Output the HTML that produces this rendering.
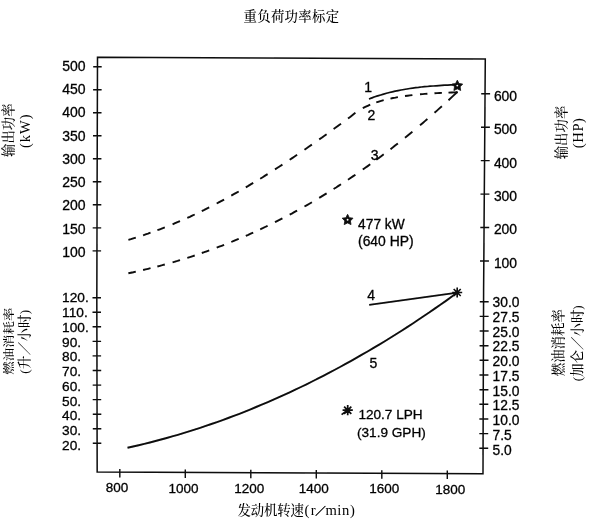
<!DOCTYPE html>
<html lang="zh-CN">
<head>
<meta charset="utf-8">
<title>重负荷功率标定</title>
<style>
html,body{margin:0;padding:0;background:#fff;}
body{width:601px;height:532px;overflow:hidden;}
svg{display:block;}
</style>
</head>
<body>
<svg width="601" height="532" viewBox="0 0 601 532">
<defs><filter id="soft" x="0" y="0" width="601" height="532" filterUnits="userSpaceOnUse"><feGaussianBlur stdDeviation="0.35"/></filter></defs>
<rect width="601" height="532" fill="#fff"/>
<g filter="url(#soft)">
<path d="M97.5 57.2 L485.3 59 L483.6 290 L483 473.7 L97.2 472 L96.8 300 Z" fill="none" stroke="#0a0a0a" stroke-width="1.5" stroke-linejoin="miter"/>
<path d="M93.2 66.7L101.7 66.7 M93.1 89.7L101.6 89.7 M93 112.8L101.5 112.8 M93 135.8L101.5 135.8 M92.9 158.8L101.4 158.8 M92.8 181.8L101.3 181.8 M92.8 204.8L101.3 204.8 M92.7 227.9L101.2 227.9 M92.6 250.9L101.1 250.9 M92.5 297.7L101 297.7 M92.5 312.3L101 312.3 M92.6 326.8L101.1 326.8 M92.6 341.4L101.1 341.4 M92.6 355.9L101.1 355.9 M92.7 370.5L101.2 370.5 M92.7 385.1L101.2 385.1 M92.7 399.6L101.2 399.6 M92.8 414.2L101.3 414.2 M92.8 428.7L101.3 428.7 M92.8 443.3L101.3 443.3 M481.2 93.7L490.1 93.7 M481 127.2L489.9 127.2 M480.8 160.6L489.7 160.6 M480.5 194.1L489.4 194.1 M480.3 227.5L489.2 227.5 M480 261L488.9 261 M479.8 301.7L488.7 301.7 M479.7 316.4L488.6 316.4 M479.7 331L488.6 331 M479.6 345.7L488.5 345.7 M479.6 360.3L488.5 360.3 M479.5 375L488.4 375 M479.5 389.7L488.4 389.7 M479.4 404.3L488.3 404.3 M479.4 419L488.3 419 M479.3 433.6L488.2 433.6 M479.3 448.3L488.2 448.3 M119.8 469.1L119.8 477.6 M185.3 469.4L185.3 477.9 M250.8 469.7L250.8 478.2 M316.3 470L316.3 478.5 M381.8 470.3L381.8 478.8 M447.3 470.5L447.3 479" stroke="#0a0a0a" stroke-width="1.4" fill="none"/>
<g font-family="'Liberation Sans', sans-serif" font-size="14" fill="#000" stroke="#000" stroke-width="0.3">
<text x="62.3" y="70.6">500</text>
<text x="62.3" y="93.9">450</text>
<text x="62.3" y="117.2">400</text>
<text x="62.3" y="140.5">350</text>
<text x="62.3" y="163.8">300</text>
<text x="62.3" y="187.1">250</text>
<text x="62.3" y="210.4">200</text>
<text x="62.3" y="233.7">150</text>
<text x="62.3" y="257">100</text>
<text x="62.1" y="302.4" font-size="13.7">120.</text>
<text x="62.1" y="317.1" font-size="13.7">110.</text>
<text x="62.1" y="331.9" font-size="13.7">100.</text>
<text x="62.1" y="346.6" font-size="13.7">90.</text>
<text x="62.1" y="361.3" font-size="13.7">80.</text>
<text x="62.1" y="376" font-size="13.7">70.</text>
<text x="62.1" y="390.8" font-size="13.7">60.</text>
<text x="62.1" y="405.5" font-size="13.7">50.</text>
<text x="62.1" y="420.2" font-size="13.7">40.</text>
<text x="62.1" y="435" font-size="13.7">30.</text>
<text x="62.1" y="449.7" font-size="13.7">20.</text>
<text x="493.9" y="101.1" font-size="13.9">600</text>
<text x="493.9" y="134.4" font-size="13.9">500</text>
<text x="493.9" y="167.7" font-size="13.9">400</text>
<text x="493.9" y="200.9" font-size="13.9">300</text>
<text x="493.9" y="234.2" font-size="13.9">200</text>
<text x="493.9" y="267.5" font-size="13.9">100</text>
<text x="492.6" y="307.1" font-size="13.8">30.0</text>
<text x="492.6" y="321.9" font-size="13.8">27.5</text>
<text x="492.6" y="336.6" font-size="13.8">25.0</text>
<text x="492.6" y="351.4" font-size="13.8">22.5</text>
<text x="492.6" y="366.1" font-size="13.8">20.0</text>
<text x="492.6" y="380.9" font-size="13.8">17.5</text>
<text x="492.6" y="395.6" font-size="13.8">15.0</text>
<text x="492.6" y="410.4" font-size="13.8">12.5</text>
<text x="492.6" y="425.1" font-size="13.8">10.0</text>
<text x="492.6" y="439.9" font-size="13.8">7.5</text>
<text x="492.6" y="454.6" font-size="13.8">5.0</text>
<text x="116.9" y="492.2" text-anchor="middle" font-size="13.5">800</text>
<text x="183.4" y="492.5" text-anchor="middle" font-size="13.5">1000</text>
<text x="249.3" y="492.8" text-anchor="middle" font-size="13.5">1200</text>
<text x="313.8" y="493.1" text-anchor="middle" font-size="13.5">1400</text>
<text x="384.3" y="493.4" text-anchor="middle" font-size="13.5">1600</text>
<text x="450.2" y="493.7" text-anchor="middle" font-size="13.5">1800</text>
<text x="364.3" y="92">1</text>
<text x="367.6" y="119.6">2</text>
<text x="370.8" y="160.3">3</text>
<text x="367.3" y="299.8">4</text>
<text x="369.6" y="367.5">5</text>
<text x="358.1" y="228.8" font-size="13.75">477 kW</text>
<text x="358" y="246.4" font-size="13.9">(640 HP)</text>
<text x="358.4" y="419.0" font-size="13.6">120.7 LPH</text>
<text x="357" y="436.5" font-size="13.6">(31.9 GPH)</text>
</g>
<g font-family="'Liberation Serif', 'Noto Serif CJK SC', serif" font-size="13.4" fill="#000" font-weight="500">
<text x="291.3" y="21" text-anchor="middle" textLength="95.5">重负荷功率标定</text>
<text y="515.2"><tspan x="237.4" textLength="66.6">发动机转速</tspan><tspan x="304.6" font-size="14.6" letter-spacing="1.3">(r</tspan><tspan x="315.3" dy="-0.6" font-size="10.5" stroke="#000" stroke-width="0.45">／</tspan><tspan x="325.4" dy="0.6" font-size="14.6" letter-spacing="0.6">min)</tspan></text>
<text transform="translate(13.2 130.2) rotate(-90)" text-anchor="middle" >输出功率</text>
<text transform="translate(30.2 130.8) rotate(-90)" text-anchor="middle" letter-spacing="1" font-size="14.5">(kW)</text>
<text transform="translate(12.5 341.2) rotate(-90) scale(1 0.84)" text-anchor="middle" >燃油消耗率</text>
<text transform="translate(29.3 341.6) rotate(-90)" text-anchor="middle" letter-spacing="0.3">(升／小时)</text>
<text transform="translate(565.6 132.5) rotate(-90)" text-anchor="middle" >输出功率</text>
<text transform="translate(582.8 132.8) rotate(-90)" text-anchor="middle" letter-spacing="0.6" font-size="14.6">(HP)</text>
<text transform="translate(563.3 342.7) rotate(-90)" text-anchor="middle" >燃油消耗率</text>
<text transform="translate(582 343.2) rotate(-90)" text-anchor="middle" >(加仑／小时)</text>
</g>
<path d="M127.5 447.8 L133.1 446.5 L138.7 445.2 L144.3 443.9 L149.9 442.5 L155.5 441 L161.1 439.5 L166.7 438 L172.2 436.4 L177.8 434.8 L183.4 433.1 L189 431.4 L194.6 429.6 L200.2 427.8 L205.8 425.9 L211.4 424 L217 422.1 L222.6 420.1 L228.2 418 L233.8 415.9 L239.4 413.8 L245 411.6 L250.6 409.3 L256.1 407 L261.7 404.7 L267.3 402.3 L272.9 399.9 L278.5 397.4 L284.1 394.9 L289.7 392.3 L295.3 389.7 L300.9 387 L306.5 384.3 L312.1 381.5 L317.7 378.7 L323.3 375.8 L328.9 372.9 L334.4 370 L340 367 L345.6 363.9 L351.2 360.8 L356.8 357.6 L362.4 354.4 L368 351.2 L373.6 347.9 L379.2 344.6 L384.8 341.2 L390.4 337.7 L396 334.2 L401.6 330.7 L407.2 327.1 L412.8 323.5 L418.3 319.8 L423.9 316 L429.5 312.3 L435.1 308.4 L440.7 304.5 L446.3 300.6 L451.9 296.6 L457.5 292.6" fill="none" stroke="#0a0a0a" stroke-width="1.9"/>
<path d="M369.2 304.8 L457.5 292.7" fill="none" stroke="#0a0a0a" stroke-width="1.7"/>
<path d="M369 99 L371.9 97.9 L374.8 96.8 L377.7 95.9 L380.7 95 L383.6 94.1 L386.5 93.3 L389.4 92.5 L392.3 91.8 L395.2 91.2 L398.1 90.6 L401.1 90 L404 89.5 L406.9 89 L409.8 88.5 L412.7 88.1 L415.6 87.7 L418.5 87.4 L421.4 87 L424.4 86.7 L427.3 86.5 L430.2 86.2 L433.1 86 L436 85.8 L438.9 85.6 L441.8 85.4 L444.8 85.2 L447.7 85.1 L450.6 84.9 L453.5 84.8" fill="none" stroke="#0a0a0a" stroke-width="1.7"/>
<path d="M128.4 239.8 L130.9 239.1 L133.3 238.3 L135.8 237.6 M143.1 235.3 L145.6 234.4 L148 233.6 L150.5 232.7 M157.4 230.2 L159.9 229.3 L162.3 228.4 L164.8 227.4 M172.6 224.3 L175.1 223.2 L177.5 222.2 L180 221.1 M187.3 217.9 L189.8 216.8 L192.2 215.6 L194.7 214.5 M201.8 211.1 L204.3 209.9 L206.7 208.6 L209.2 207.4 M216.7 203.5 L219.2 202.2 L221.6 200.9 L224.1 199.6 M231.3 195.6 L233.8 194.2 L236.2 192.9 L238.7 191.5 M245.8 187.3 L248.3 185.9 L250.7 184.4 L253.2 182.9 M260.2 178.7 L262.7 177.2 L265.1 175.6 L267.6 174.1 M275 169.4 L277.5 167.8 L279.9 166.2 L282.4 164.6 M289.7 159.8 L292.2 158.1 L294.6 156.5 L297.1 154.8 M304.5 149.7 L307 148 L309.4 146.3 L311.9 144.6 M319.2 139.4 L321.7 137.7 L324.1 135.9 L326.6 134.2 M333.6 129.1 L336.1 127.3 L338.5 125.5 L341 123.7 M348 118.5 L350.5 116.7 L352.9 114.8 L355.4 112.8 M362.8 108.1 L365.3 106.9 L367.7 105.8 L370.2 104.7 M376.3 102.4 L378.8 101.6 L381.2 100.9 L383.7 100.2 M390.5 98.6 L393 98 L395.4 97.6 L397.9 97.1 M405 96 L407.5 95.7 L409.9 95.4 L412.4 95.1 M420 94.3 L422.5 94.1 L424.9 93.9 L427.4 93.7 M434.5 93.3 L437 93.1 L439.4 93 L441.9 92.9 M448.5 92.6 L451.5 92.5 L454.5 92.4 L457.5 92.3" fill="none" stroke="#0a0a0a" stroke-width="1.9"/>
<path d="M128.4 273.2 L130.9 272.7 L133.3 272.2 L135.8 271.6 M143.1 270 L145.6 269.4 L148 268.8 L150.5 268.2 M157.4 266.5 L159.9 265.8 L162.3 265.2 L164.8 264.5 M172.6 262.3 L175.1 261.6 L177.5 260.9 L180 260.1 M187.3 257.9 L189.8 257.1 L192.2 256.3 L194.7 255.5 M201.8 253 L204.3 252.2 L206.7 251.3 L209.2 250.4 M216.7 247.7 L219.2 246.7 L221.6 245.8 L224.1 244.8 M231.3 242 L233.8 240.9 L236.2 239.9 L238.7 238.9 M245.8 235.8 L248.3 234.8 L250.7 233.7 L253.2 232.6 M260.2 229.3 L262.7 228.2 L265.1 227 L267.6 225.8 M275 222.2 L277.5 220.9 L279.9 219.7 L282.4 218.4 M289.7 214.6 L292.2 213.3 L294.6 211.9 L297.1 210.6 M304.5 206.5 L307 205.1 L309.4 203.7 L311.9 202.2 M319.2 197.9 L321.7 196.4 L324.1 194.9 L326.6 193.4 M333.6 189 L336.1 187.5 L338.5 185.9 L341 184.3 M348 179.7 L350.5 178 L352.9 176.4 L355.4 174.7 M362.8 169.6 L365.3 167.8 L367.7 166.1 L370.2 164.3 M376.3 159.8 L378.8 158 L381.2 156.2 L383.7 154.3 M390.5 149.2 L393 147.3 L395.4 145.3 L397.9 143.4 M405 137.7 L407.5 135.7 L409.9 133.7 L412.4 131.7 M420 125.3 L422.5 123.2 L424.9 121.1 L427.4 119 M434.5 112.8 L437 110.6 L439.4 108.4 L441.9 106.2 M448.5 100.2 L451.5 97.4 L454.5 94.6 L457.5 91.8" fill="none" stroke="#0a0a0a" stroke-width="1.9"/>
<path d="M347.6 214.3 L349.3 217.7 L353 218.2 L350.4 220.9 L351 224.6 L347.6 222.9 L344.2 224.6 L344.8 220.9 L342.2 218.2 L345.9 217.7Z" fill="#0a0a0a" stroke="#0a0a0a" stroke-width="0.8" stroke-linejoin="round"/>
<circle cx="347.6" cy="219.7" r="0.95" fill="#fff"/>
<path d="M457.3 80.2 L459 83.6 L462.7 84.1 L460.1 86.8 L460.7 90.5 L457.3 88.8 L453.9 90.5 L454.5 86.8 L451.9 84.1 L455.6 83.6Z" fill="#0a0a0a" stroke="#0a0a0a" stroke-width="0.8" stroke-linejoin="round"/>
<circle cx="457.3" cy="85.6" r="0.95" fill="#fff"/>
<path d="M342.6 410.2L352.8 410.2 M344.1 406.6L351.3 413.8 M347.7 405.1L347.7 415.3 M351.3 406.6L344.1 413.8 M347.5 410.3 L341.6 414.6" fill="none" stroke="#0a0a0a" stroke-width="1.7"/>
<circle cx="347.7" cy="410.2" r="2.3" fill="#0a0a0a"/>
<path d="M452.2 292.5L462.2 292.5 M453.7 289L460.7 296 M457.2 287.5L457.2 297.5 M460.7 289L453.7 296" fill="none" stroke="#0a0a0a" stroke-width="1.6"/>
<circle cx="457.2" cy="292.5" r="2.0" fill="#0a0a0a"/>
</g>
</svg>
</body>
</html>
